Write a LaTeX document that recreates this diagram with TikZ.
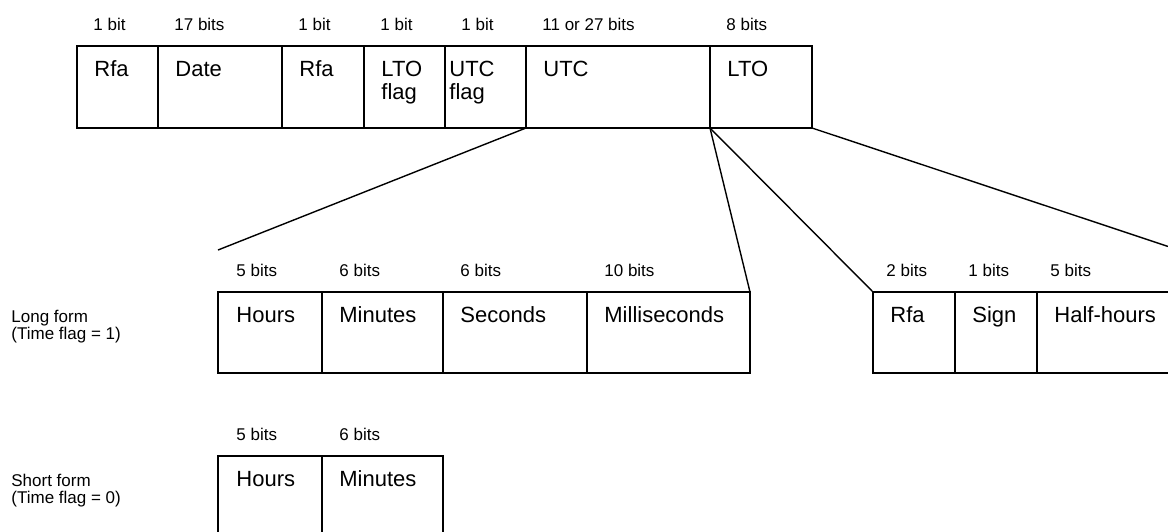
\documentclass[tikz,border=0pt]{standalone}
\usepackage{fontspec}
\setmainfont{Liberation Sans}
\usetikzlibrary{positioning}
\tikzset
{
    field/.style     = {rectangle, draw=black, line width=0.7pt, inner sep=0pt, outer sep=0pt, minimum height=41pt, anchor=north west},
    fieldtext/.style = {inner sep=0pt, anchor=base west, align=left, font=\fontsize{11}{11.5}\selectfont},
    bits/.style      = {inner sep=0pt, anchor=base west, font=\fontsize{8.5}{9}\selectfont},
    formtext/.style  = {inner sep=0pt, anchor=base west, align=left, font=\fontsize{8.5}{8.5}\selectfont},
    zoomline/.style  = {line width=0.7pt}
}
\begin{document}
\begin{tikzpicture}[x=0.5pt, y=-0.5pt]
	 \newcommand\TXTDX{17}
	 \newcommand\TXTDY{30}
	 \newcommand\BITDY{16}

	 \useasboundingbox (0, 0) rectangle (1168, 531);
	 \clip (0, 0) rectangle (1168, 531);

	 % time code word
	 \node (rfaa)    [field, minimum width=40.5pt]  at (77, 46)            {};
	 \node (date)    [field, minimum width=62pt]    at (rfaa.north east)    {};
	 \node (rfab)    [field, minimum width=41pt]    at (date.north east)    {};
	 \node (ltoflag) [field, minimum width=40.5pt]  at (rfab.north east)    {};
	 \node (utcflag) [field, minimum width=40.5pt]  at (ltoflag.north east) {};
	 \node (utc)     [field, minimum width=92pt]    at (utcflag.north east) {};
	 \node (lto)     [field, minimum width=51pt]    at (utc.north east)     {};

	 \node (rfaab)    [bits] at ([shift=({\TXTDX-1, -\BITDY})]rfaa.north west)    {1 bit};
	 \node (dateb)    [bits] at ([shift=({\TXTDX-1, -\BITDY})]date.north west)    {17 bits};
	 \node (rfabb)    [bits] at ([shift=({\TXTDX-1, -\BITDY})]rfab.north west)    {1 bit};
	 \node (ltoflagb) [bits] at ([shift=({\TXTDX-1, -\BITDY})]ltoflag.north west) {1 bit};
	 \node (utcflagb) [bits] at ([shift=({\TXTDX-1, -\BITDY})]utcflag.north west) {1 bit};
	 \node (utcb)     [bits] at ([shift=({\TXTDX-1, -\BITDY})]utc.north west)     {11 or 27 bits};
	 \node (ltob)     [bits] at ([shift=({\TXTDX-1, -\BITDY})]lto.north west)     {8 bits};

	 % two-line texts sit on their last line
	 \node (rfaat)    [fieldtext] at ([shift=({\TXTDX, \TXTDY})]rfaa.north west)       {Rfa};
	 \node (datet)    [fieldtext] at ([shift=({\TXTDX, \TXTDY})]date.north west)       {Date};
	 \node (rfabt)    [fieldtext] at ([shift=({\TXTDX, \TXTDY})]rfab.north west)       {Rfa};
	 \node (ltoflagt) [fieldtext] at ([shift=({\TXTDX, \TXTDY+23})]ltoflag.north west) {LTO\\flag};
	 \node (utcflagt) [fieldtext] at ([shift=({4, \TXTDY+23})]utcflag.north west)      {UTC\\flag};
	 \node (utct)     [fieldtext] at ([shift=({\TXTDX, \TXTDY})]utc.north west)        {UTC};
	 \node (ltot)     [fieldtext] at ([shift=({\TXTDX, \TXTDY})]lto.north west)        {LTO};

	 % long form
	 \node (lhours)   [field, minimum width=52pt,   minimum height=40.5pt] at (218, 292)            {};
	 \node (lminutes) [field, minimum width=60.5pt, minimum height=40.5pt] at (lhours.north east)   {};
	 \node (lseconds) [field, minimum width=72pt,   minimum height=40.5pt] at (lminutes.north east) {};
	 \node (lmsec)    [field, minimum width=81.5pt, minimum height=40.5pt] at (lseconds.north east) {};

	 \node (lhoursb)   [bits] at ([shift=({\TXTDX+1, -\BITDY})]lhours.north west)   {5 bits};
	 \node (lminutesb) [bits] at ([shift=({\TXTDX, -\BITDY})]lminutes.north west)   {6 bits};
	 \node (lsecondsb) [bits] at ([shift=({\TXTDX, -\BITDY})]lseconds.north west)   {6 bits};
	 \node (lmsecb)    [bits] at ([shift=({\TXTDX, -\BITDY})]lmsec.north west)      {10 bits};

	 \node (lhourst)   [fieldtext] at ([shift=({\TXTDX+1, \TXTDY})]lhours.north west) {Hours};
	 \node (lminutest) [fieldtext] at ([shift=({\TXTDX, \TXTDY})]lminutes.north west) {Minutes};
	 \node (lsecondst) [fieldtext] at ([shift=({\TXTDX, \TXTDY})]lseconds.north west) {Seconds};
	 \node (lmsect)    [fieldtext] at ([shift=({\TXTDX, \TXTDY})]lmsec.north west)    {Milliseconds};

	 \node (lform) [formtext] at ([shift=({-207, \TXTDY+17})]lhours.north west) {Long form\\(Time flag = 1)};

	 % local time offset
	 \node (orfa)  [field, minimum width=41pt,  minimum height=40.5pt] at (873, 292)          {};
	 \node (osign) [field, minimum width=41pt,  minimum height=40.5pt] at (orfa.north east)  {};
	 \node (ohalf) [field, minimum width=134pt, minimum height=40.5pt] at (osign.north east) {};

	 \node (orfab)  [bits] at ([shift=({\TXTDX-4, -\BITDY})]orfa.north west)  {2 bits};
	 \node (osignb) [bits] at ([shift=({\TXTDX-4, -\BITDY})]osign.north west) {1 bits};
	 \node (ohalfb) [bits] at ([shift=({\TXTDX-4, -\BITDY})]ohalf.north west) {5 bits};

	 \node (orfat)  [fieldtext] at ([shift=({\TXTDX, \TXTDY})]orfa.north west)  {Rfa};
	 \node (osignt) [fieldtext] at ([shift=({\TXTDX, \TXTDY})]osign.north west) {Sign};
	 \node (ohalft) [fieldtext] at ([shift=({\TXTDX, \TXTDY})]ohalf.north west) {Half-hours};

	 % short form
	 \node (shours)   [field, minimum width=52pt,   minimum height=40.5pt] at (218, 456)          {};
	 \node (sminutes) [field, minimum width=60.5pt, minimum height=40.5pt] at (shours.north east) {};

	 \node (shoursb)   [bits] at ([shift=({\TXTDX+1, -\BITDY})]shours.north west) {5 bits};
	 \node (sminutesb) [bits] at ([shift=({\TXTDX, -\BITDY})]sminutes.north west) {6 bits};

	 \node (shourst)   [fieldtext] at ([shift=({\TXTDX+1, \TXTDY})]shours.north west) {Hours};
	 \node (sminutest) [fieldtext] at ([shift=({\TXTDX, \TXTDY})]sminutes.north west) {Minutes};

	 \node (sform) [formtext] at ([shift=({-207, \TXTDY+17})]shours.north west) {Short form\\(Time flag = 0)};

	 \coordinate (utcend) at ([shift=({0, -42})]lhours.north west);

	 \path[zoomline]
		  (utc.south west)  edge  (utcend)
		  (utc.south east)  edge  (lmsec.north east)
		  (lto.south west)  edge  (orfa.north west)
		  (lto.south east)  edge  (ohalf.north east);
\end{tikzpicture}
\end{document}
